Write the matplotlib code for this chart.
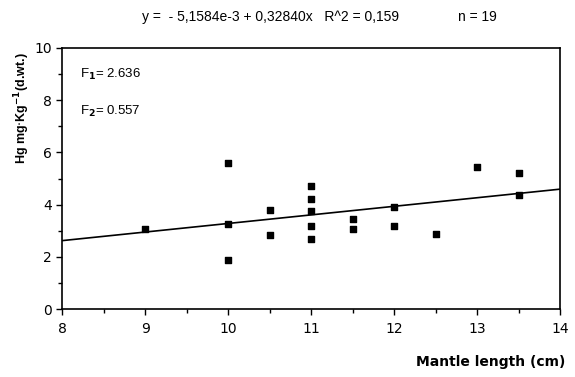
import matplotlib
matplotlib.use("Agg")
import matplotlib.pyplot as plt
import numpy as np
from matplotlib.ticker import MultipleLocator

plt.rcParams['font.family'] = ['Liberation Sans', 'DejaVu Sans']

mantle_length = [9, 10, 10, 10, 10.5, 10.5, 11, 11, 11, 11, 11,
                 11.5, 11.5, 12, 12, 12.5, 13, 13.5, 13.5]
hg = [3.05, 5.6, 3.25, 1.87, 3.8, 2.85, 4.7, 4.2, 3.75, 3.17, 2.67,
      3.45, 3.05, 3.9, 3.2, 2.87, 5.45, 5.2, 4.35]
intercept = -5.1584e-3
slope = 0.32840
x_ticks = [8, 9, 10, 11, 12, 13, 14]
y_ticks = [0, 2, 4, 6, 8, 10]

fig = plt.figure(figsize=(5.75, 3.77), dpi=100)
ax = fig.add_axes([0.108, 0.180, 0.866, 0.693])

ax.scatter(mantle_length, hg, marker='s', s=22, color='black', zorder=3)
xl = np.array([8, 14])
ax.plot(xl, intercept + slope * xl, color='black', lw=1.2)

ax.set_xlim(8, 14)
ax.set_ylim(0, 10)
ax.set_xticks(x_ticks)
ax.set_yticks(y_ticks)
ax.xaxis.set_minor_locator(MultipleLocator(0.5))
ax.yaxis.set_minor_locator(MultipleLocator(1))
ax.tick_params(axis='both', which='major', direction='out', length=4, width=1, labelsize=10)
ax.tick_params(axis='x', which='major', pad=5)
ax.tick_params(axis='both', which='minor', direction='out', length=3, width=1)
for lab in ax.get_xticklabels() + ax.get_yticklabels():
    lab.set_family('DejaVu Sans')
for s in ax.spines.values():
    s.set_linewidth(1.2)

ax.text(8.22, 8.97, r"F$_{\mathbf{1}}$= 2.636", fontsize=9.5, va='center', ha='left')
ax.text(8.22, 7.55, r"F$_{\mathbf{2}}$= 0.557", fontsize=9.5, va='center', ha='left')

fig.text(0.47, 0.955, "y =  - 5,1584e-3 + 0,32840x   R^2 = 0,159", fontsize=10,
         ha='center', va='center')
fig.text(0.83, 0.955, "n = 19", fontsize=10, ha='center', va='center')

fig.text(0.038, 0.714, r"Hg mg$\cdot$Kg$^{\mathbf{-1}}$(d.wt.)", fontsize=9,
         fontweight='bold', rotation=90, ha='center', va='center')
fig.text(0.983, 0.04, "Mantle length (cm)", fontsize=10, fontweight='bold',
         family='DejaVu Sans', ha='right', va='center')

fig.savefig("out.png", dpi=100)
